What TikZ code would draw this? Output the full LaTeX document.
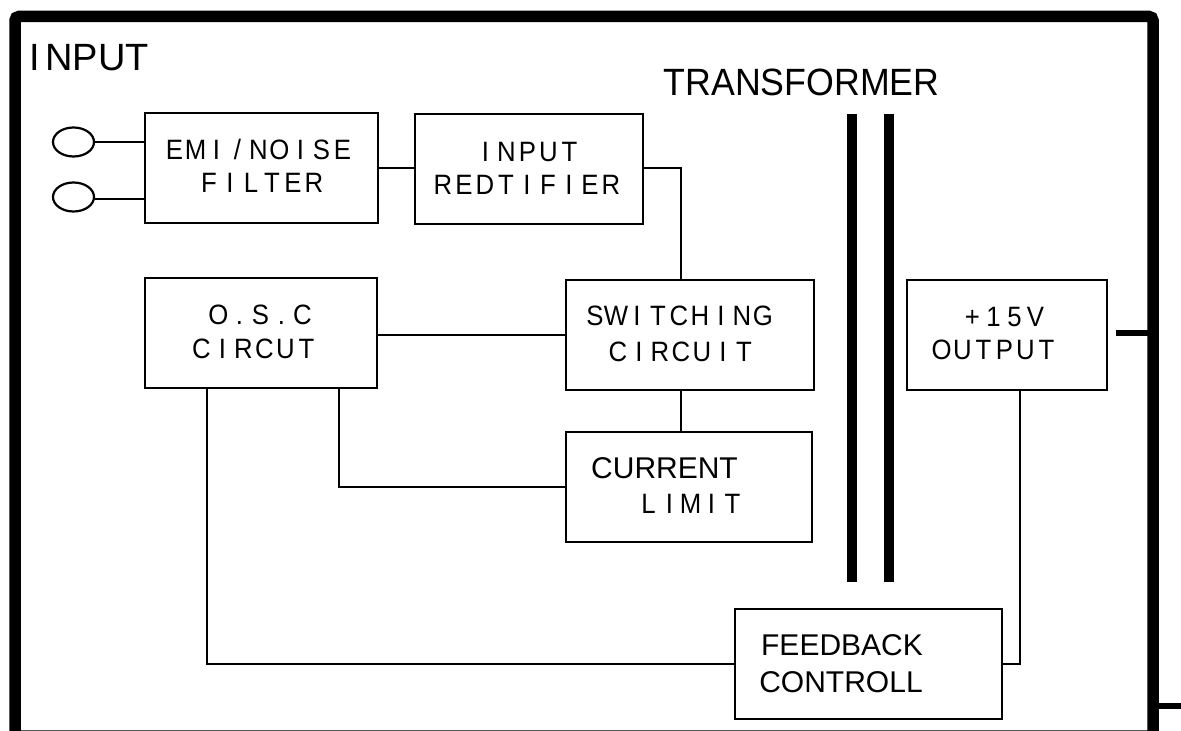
\documentclass[tikz,border=0pt]{standalone}
\usepackage{fontspec}
\setmainfont{Liberation Sans}
\newfontfamily\gfont[FakeStretch=0.92]{Liberation Sans}
\newfontfamily\tfont[FakeStretch=0.94]{Liberation Sans}
\newlength\gpitch \setlength\gpitch{10.5pt}
\def\gmonoend{\gmonoend}
\def\gmono#1{\gmonoloop#1\gmonoend}
\def\gmonoloop#1{\ifx#1\gmonoend\else\makebox[\gpitch][c]{#1}\expandafter\gmonoloop\fi}
\usetikzlibrary{shapes.geometric}
\begin{document}
\begin{tikzpicture}[x=0.5pt,y=-0.5pt,
 box/.style={draw, rectangle, line width=1.25pt, inner sep=0pt},
 conn/.style={line width=1pt},
 frame/.style={line width=5.75pt, rounded corners=2pt},
 stub/.style={line width=3pt},
 bar/.style={line width=5pt},
 term/.style={draw, ellipse, line width=1.1pt, minimum width=20.5pt, minimum height=14.5pt, inner sep=0pt},
 mtxt/.style={inner sep=0pt, anchor=base, font=\gfont\fontsize{14pt}{16pt}\selectfont},
 ptxt/.style={inner sep=0pt, anchor=base, font=\fontsize{15pt}{18pt}\selectfont},
 big/.style={inner sep=0pt, font=\fontsize{19pt}{22pt}\selectfont},
]
\useasboundingbox (0,0) rectangle (1181,731);
% outer frame
\draw[frame] (15,16.5) rectangle (1153,736);
\coordinate (frR) at (1153,0);

% labels
\node[big, anchor=base west] (inputT) at (29.5,71) {I\kern2.5pt NPUT};
\node[big, anchor=base, font=\tfont\fontsize{19pt}{22pt}\selectfont] (trT) at (801.5,96) {TRANSFORMER};

% terminals
\node[term] (in1) at (73.5,142) {};
\node[term] (in2) at (73.5,197) {};

% boxes
\node[box, minimum width=116.5pt, minimum height=55pt] (emi) at (261.5,168) {};
\node[box, minimum width=114pt, minimum height=55pt] (rect) at (529,169) {};
\node[box, minimum width=116pt, minimum height=55pt] (osc) at (261,333) {};
\node[box, minimum width=124pt, minimum height=55pt] (sw) at (690,335) {};
\node[box, minimum width=123pt, minimum height=55pt] (cl) at (689,487) {};
\node[box, minimum width=100pt, minimum height=55pt] (out) at (1007,335) {};
\node[box, minimum width=133.5pt, minimum height=55pt] (fb) at (868.5,664) {};

% box texts
\node[mtxt] (emiT1) at (258.5,160) {\gmono{EMI/NOISE}};
\node[mtxt] (emiT2) at (261.5,193) {\gmono{FILTER}};
\node[mtxt] (rectT1) at (527.5,162) {\gmono{INPUT}};
\node[mtxt] (rectT2) at (527,195) {\gmono{REDTIFIER}};
\node[mtxt] (oscT1) at (260.5,325) {\gmono{O.S.C}};
\node[mtxt] (oscT2) at (254,359) {\gmono{CIRCUT}};
\node[mtxt] (swT1) at (679,326) {\gmono{SWITCHING}};
\node[mtxt] (swT2) at (681,362) {\gmono{CIRCUIT}};
\node[ptxt] (clT1) at (664.5,478) {CURRENT};
\node[mtxt] (clT2) at (690.5,513) {\gmono{LIMIT}};
\node[mtxt] (outT1) at (1004,327) {\gmono{+15V}};
\node[mtxt] (outT2) at (994,360) {\gmono{OUTPUT}};
\node[ptxt] (fbT1) at (842,655) {FEEDBACK};
\node[ptxt] (fbT2) at (841,692) {CONTROLL};

% transformer bars
\draw[bar] (852,114) -- (852,582);
\draw[bar] (889,114) -- (889,582);

% connectors
\draw[conn] (in1.east) -- (in1.east -| emi.west);
\draw[conn] ([yshift=-1pt]in2.east) -- ([yshift=-1pt]in2.east -| emi.west);
\draw[conn] (emi.east) -- (emi.east -| rect.west);
\draw[conn] ([yshift=0.5pt]rect.east) -| ([xshift=-4.5pt]sw.north);
\draw[conn] ([yshift=-1pt]osc.east) -- ([yshift=-1pt]osc.east -| sw.west);
\draw[conn] ([xshift=-4.5pt]sw.south) -- ([xshift=-4.5pt]sw.south |- cl.north);
\draw[conn] ([xshift=39pt]osc.south) |- (cl.west);
\draw[conn] ([xshift=-27pt]osc.south) |- (fb.west);
\draw[conn] ([xshift=6.5pt]out.south) |- (fb.east);
\draw[stub] ([xshift=4pt,yshift=1pt]out.east) -- ([yshift=1pt]out.east -| frR);
\coordinate (bsA) at (1153,706);
\coordinate (bsB) at (1181,706);
\draw[stub] (bsA) -- (bsB);
\end{tikzpicture}
\end{document}
